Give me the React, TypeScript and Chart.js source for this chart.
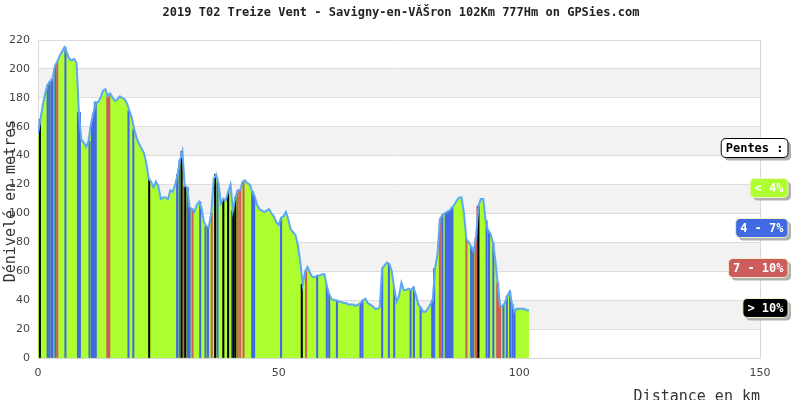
import React, { useEffect, useRef } from "react";
import { Chart, registerables } from "chart.js";

Chart.register(...registerables);

const TITLE = "2019 T02 Treize Vent - Savigny-en-VĂŠron 102Km 777Hm on GPSies.com";
const Y_TITLE = "Dénivelé en metres";
const X_TITLE = "Distance en km";

// profile sampled every STEP_KM kilometres (metres)
const STEP_KM = 0.5;
const elevations = [
  155, 165, 175, 183, 189, 191, 193, 202, 205, 209, 212, 215, 211, 207, 206, 207, 204, 170, 151, 149,
  146, 150, 162, 169, 177, 177, 180, 185, 186, 181, 183, 180, 178, 179, 181, 180, 179, 176, 171, 166,
  158, 152, 148, 145, 142, 135, 124, 122, 118, 122, 119, 110, 111, 111, 110, 116, 115, 120, 127, 137,
  143, 119, 118, 104, 103, 101, 106, 108, 103, 94, 91, 91, 100, 124, 127, 121, 107, 110, 109, 115,
  120, 102, 111, 116, 116, 122, 123, 121, 120, 115, 112, 106, 103, 102, 101, 102, 103, 100, 98, 94,
  92, 97, 98, 101, 96, 89, 87, 85, 78, 66, 51, 60, 63, 59, 56, 56, 57, 57, 58, 58,
  50, 44, 41, 40, 40, 39, 39, 38, 38, 37, 37, 37, 36, 37, 38, 40, 41, 38, 37, 36,
  34, 34, 35, 62, 64, 66, 65, 60, 48, 39, 43, 52, 47, 47, 48, 47, 49, 44, 37, 35,
  32, 32, 34, 37, 40, 62, 72, 96, 99, 100, 101, 102, 104, 106, 109, 111, 111, 100, 82, 80,
  77, 74, 83, 105, 110, 110, 95, 88, 86, 80, 68, 52, 36, 36, 38, 43, 46, 37, 32, 34,
  34, 34, 34, 33, 33,
];

// slope markers: position (km) and class (b = 4-7%, r = 7-10%, k = >10%)
const markerKm = [
  0.4, 2.0, 2.35, 2.8, 3.0, 3.6, 4.0, 5.7, 8.3, 8.5, 8.7, 10.7, 11.2, 11.4, 11.6, 11.8, 12.0,
  14.4, 14.6, 14.8, 18.8, 19.8, 23.1, 28.9, 29.4, 29.85, 30.3, 30.6, 31.1, 31.3, 31.5, 32.1,
  33.7, 34.8, 35.3, 36.1, 36.8, 37.3, 38.5, 39.5, 40.3, 40.6, 41.0, 41.5, 42.0, 42.7,
  44.5, 44.7, 44.9, 50.5, 54.8, 55.7, 58.0, 60.0, 60.5, 62.1, 67.0, 67.4, 71.5, 72.9, 74.0,
  77.4, 78.1, 79.5, 81.9, 82.3, 83.5, 84.0, 84.7, 84.9, 85.1, 85.3, 85.5, 85.7, 85.9, 86.1,
  89.0, 90.0, 90.4, 90.9, 91.1, 91.3, 91.5, 93.2, 93.7, 94.6, 95.4, 95.6, 95.8, 96.0,
  96.7, 97.4, 98.1, 98.6, 99.0,
];
const markerClass = [
  "k", "b", "b", "b", "b", "b", "r", "b", "b", "b", "b", "b", "b", "b", "b", "b", "b",
  "r", "r", "r", "b", "b", "k", "b", "b", "k", "r", "k", "b", "b", "b", "r",
  "b", "b", "b", "r", "k", "b", "k", "k", "b", "k", "k", "r", "r", "r",
  "b", "b", "b", "b", "k", "r", "b", "b", "b", "b", "b", "b", "b", "b", "b",
  "b", "b", "b", "b", "b", "r", "b", "b", "b", "b", "b", "b", "b", "b", "b",
  "r", "b", "b", "r", "r", "r", "k", "b", "b", "b", "r", "r", "r", "r",
  "b", "b", "b", "b", "b",
];

const legendLabels = ["Pentes :", "< 4%", "4 - 7%", "7 - 10%", "> 10%"];
const legendClasses = ["title", "g", "b", "r", "k"];

const CLASS_COLORS: Record<string, string> = {
  g: "#adff2f",
  b: "#4169e1",
  r: "#cd5c5c",
  k: "#000000",
  title: "#ffffff",
};

const X_STEP = 50;
const Y_STEP = 20;

const MONO = '"DejaVu Sans Mono", monospace';

const bandsPlugin = {
  id: "bands",
  beforeDraw(chart: any) {
    const { ctx, chartArea, scales } = chart;
    const y = scales.y;
    ctx.save();
    ctx.fillStyle = "#f2f2f2";
    for (let v = 20; v < 220; v += 40) {
      const top = y.getPixelForValue(v + 20);
      const bot = y.getPixelForValue(v);
      ctx.fillRect(chartArea.left, top, chartArea.right - chartArea.left, bot - top);
    }
    ctx.restore();
  },
};

function roundRect(ctx: CanvasRenderingContext2D, x: number, y: number, w: number, h: number, r: number) {
  ctx.beginPath();
  ctx.moveTo(x + r, y);
  ctx.lineTo(x + w - r, y);
  ctx.quadraticCurveTo(x + w, y, x + w, y + r);
  ctx.lineTo(x + w, y + h - r);
  ctx.quadraticCurveTo(x + w, y + h, x + w - r, y + h);
  ctx.lineTo(x + r, y + h);
  ctx.quadraticCurveTo(x, y + h, x, y + h - r);
  ctx.lineTo(x, y + r);
  ctx.quadraticCurveTo(x, y, x + r, y);
  ctx.closePath();
}

const textPlugin = {
  id: "texts",
  afterDraw(chart: any) {
    const { ctx, chartArea } = chart;
    ctx.save();
    // title
    ctx.fillStyle = "#222";
    ctx.font = `bold 12px ${MONO}`;
    ctx.textAlign = "center";
    ctx.textBaseline = "middle";
    ctx.fillText(TITLE, 401, 13);

    // y title
    ctx.save();
    ctx.translate(11, (chartArea.top + chartArea.bottom) / 2 + 2);
    ctx.rotate(-Math.PI / 2);
    ctx.font = `15px ${MONO}`;
    ctx.fillStyle = "#333";
    ctx.textAlign = "center";
    ctx.textBaseline = "middle";
    ctx.fillText(Y_TITLE, 0, 0);
    ctx.restore();

    // x title
    ctx.font = `15px ${MONO}`;
    ctx.fillStyle = "#333";
    ctx.textAlign = "right";
    ctx.textBaseline = "middle";
    ctx.fillText(X_TITLE, chartArea.right, 397);

    // legend
    ctx.font = `bold 12px ${MONO}`;
    const right = 788;
    legendLabels.forEach((label, i) => {
      const cls = legendClasses[i];
      const cy = 148 + i * 40;
      const w = ctx.measureText(label).width + 9;
      const h = 19;
      const x = right - w;
      const y = cy - h / 2;
      ctx.fillStyle = "#b0b0b0";
      roundRect(ctx, x + 3, y + 3, w, h, 5);
      ctx.fill();
      ctx.fillStyle = CLASS_COLORS[cls];
      roundRect(ctx, x, y, w, h, 5);
      ctx.fill();
      ctx.lineWidth = 1;
      ctx.strokeStyle = cls === "title" ? "#000" : "#f5f0c8";
      ctx.stroke();
      ctx.fillStyle = cls === "title" ? "#000" : "#fff";
      ctx.textAlign = "center";
      ctx.textBaseline = "middle";
      ctx.fillText(label, x + w / 2, cy + 1);
    });
    ctx.restore();
  },
};

export default function App() {
  const canvasRef = useRef<HTMLCanvasElement | null>(null);

  useEffect(() => {
    document.body.style.margin = "0";
    const canvas = canvasRef.current;
    if (!canvas) return;

    const profile = elevations.map((e, i) => ({ x: i * STEP_KM, y: e }));
    const markers = markerKm.map((km) => ({
      x: km,
      y: elevations[Math.round(km / STEP_KM)],
    }));

    const chart = new Chart(canvas, {
      type: "line",
      data: {
        datasets: [
          {
            type: "line",
            data: profile,
            borderWidth: 0,
            borderColor: "rgba(0,0,0,0)",
            backgroundColor: CLASS_COLORS.g,
            fill: "origin",
            pointRadius: 0,
            order: 3,
          } as any,
          {
            type: "bar",
            data: markers,
            backgroundColor: markerClass.map((c) => CLASS_COLORS[c]),
            barThickness: 1.4,
            order: 2,
          } as any,
          {
            type: "line",
            data: profile,
            borderWidth: 2,
            borderColor: "#5ca8f2",
            fill: false,
            pointRadius: 0,
            order: 1,
          } as any,
        ],
      },
      options: {
        animation: false,
        responsive: false,
        maintainAspectRatio: false,
        layout: { padding: { left: 0, right: 40, top: 40, bottom: 0 } },
        plugins: {
          legend: { display: false },
          tooltip: { enabled: false },
          title: { display: false },
        },
        scales: {
          x: {
            type: "linear",
            min: 0,
            max: 150,
            offset: false,
            afterFit: (s: any) => {
              s.height = 42;
            },
            ticks: {
              stepSize: X_STEP,
              padding: 9,
              color: "#444",
              font: { family: '"DejaVu Sans", sans-serif', size: 11 },
              maxRotation: 0,
            },
            grid: {
              offset: false,
              drawTicks: false,
              color: (c: any) => (c.tick && c.tick.value === 150 ? "#d8d8d8" : "rgba(0,0,0,0)"),
            },
            border: { display: true, color: "#d8d8d8" },
          },
          y: {
            min: 0,
            max: 220,
            afterFit: (s: any) => {
              s.width = 38;
            },
            ticks: {
              stepSize: Y_STEP,
              padding: 8,
              color: "#444",
              font: { family: '"DejaVu Sans", sans-serif', size: 11 },
            },
            grid: { drawTicks: false, color: "#dddddd" },
            border: { display: true, color: "#d8d8d8" },
          },
        },
      },
      plugins: [bandsPlugin, textPlugin],
    } as any);

    return () => chart.destroy();
  }, []);

  return (
    <div style={{ width: 800, height: 400 }}>
      <canvas ref={canvasRef} width={800} height={400} style={{ display: "block" }} />
    </div>
  );
}
